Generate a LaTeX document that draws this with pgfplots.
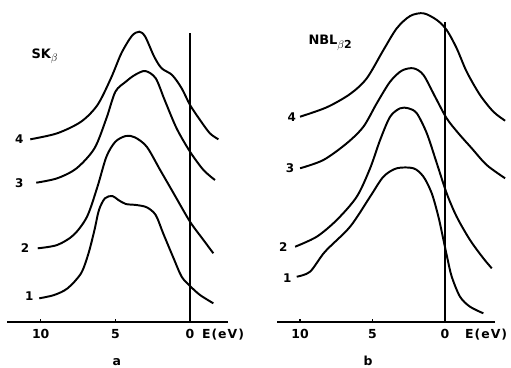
\documentclass[border=0pt]{standalone}
\usepackage{pgfplots}
\pgfplotsset{compat=1.18}
\usepackage{fontspec}
\setmainfont{DejaVu Sans}
\begin{document}
\begin{tikzpicture}[x=1bp,y=1bp]
\useasboundingbox (0,0) rectangle (511,367);
\pgfplotsset{
 panel/.style={
  scale only axis, height=320bp, ymin=0, ymax=320, x dir=reverse,
  axis x line*=bottom, axis y line=none, clip=false,
  x axis line style={line width=1.7bp,-},
  xtick={10,5,0}, xticklabels={10,5,0},
  tick align=inside, major tick length=3bp,
  xtick style={line width=1.3bp, black},
  xticklabel style={anchor=base, yshift=-16.3bp, font=\fontsize{12.5}{14}\selectfont\bfseries},
 },
 crv/.style={black, mark=none, line width=1.95bp, smooth},
}
\tikzset{lab/.style={font=\fontsize{12}{14}\selectfont\bfseries, anchor=center}}
\newcommand{\sub}[1]{\raisebox{-3.5bp}{\fontsize{11}{12}\selectfont #1}}
% ---------------- panel a ----------------
\begin{axis}[panel, at={(7bp,45bp)}, anchor=south west,
  xmin=-2.55, xmax=12.26, width=221.1bp]
\addplot[crv] coordinates {(10.1,23.7)(9.1,27)(8.2,33.7)(7.3,48.7)(6.8,68.7)(6.4,92)(6.1,112)(5.7,123.7)(5.2,126)(4.8,122)(4.3,118)(3.6,117)(2.9,114.7)(2.3,107)(1.8,88.7)(1.1,63.7)(0.56,45.3)(0,36)(-0.67,27)(-1.56,18.7)};
\addplot[crv] coordinates {(10.2,73.7)(8.9,77)(7.8,87)(6.9,105.3)(6.2,135.3)(5.6,165.3)(5.0,180.3)(4.3,186)(3.7,184.7)(2.9,175.3)(2.0,152)(1.1,128.7)(0,100.3)(-0.9,82)(-1.56,68.7)};
\addplot[crv] coordinates {(10.3,139.3)(8.9,143.7)(7.6,153.7)(6.4,173.7)(5.6,203.7)(5.0,230.3)(4.3,240.3)(3.7,247)(3.0,251)(2.3,243.7)(1.7,222)(0.9,193.7)(0,170.3)(-0.9,152)(-1.67,142)};
\addplot[crv] coordinates {(10.7,182.7)(8.9,188.7)(7.3,200.3)(6.2,217)(5.3,243.7)(4.6,268.7)(3.9,286)(3.4,290.3)(3.0,285.3)(2.4,265.3)(1.9,253.7)(1.2,247)(0.56,233.7)(0,217)(-0.67,202)(-1.33,188.7)(-1.9,182.7)};
\addplot[black, mark=none, line width=1.4bp, sharp plot] coordinates {(0,0)(0,289)};
\node[lab] at (axis cs:11.43,182.7) {4};
\node[lab] at (axis cs:11.43,139.3) {3};
\node[lab] at (axis cs:11.05,73.7) {2};
\node[lab] at (axis cs:10.76,26) {1};
\node[anchor=base west, font=\fontsize{13}{15}\selectfont\bfseries] at (axis cs:10.85,264) {SK\sub{$\beta$}};
\node[anchor=base, font=\fontsize{12.5}{14}\selectfont\bfseries\addfontfeatures{LetterSpace=8}] at (axis cs:-2.21,-16.3) {E(eV)};
\node[anchor=base, font=\fontsize{12.5}{14}\selectfont\bfseries] at (axis cs:4.91,-43) {a};
\end{axis}
% ---------------- panel b ----------------
\begin{axis}[panel, at={(276.7bp,45bp)}, anchor=south west,
  xmin=-3.45, xmax=11.61, width=218.4bp]
\addplot[crv] coordinates {(10.23,45.3)(9.31,50.3)(8.28,70.3)(6.55,95.3)(5.17,125.3)(4.25,145.3)(3.33,153.7)(2.18,153.7)(1.49,145.3)(0.92,128.7)(0.46,105.3)(0.11,82)(-0.16,63.7)(-0.46,45.3)(-1.03,25.3)(-1.72,15.3)(-2.64,8.7)};
\addplot[crv] coordinates {(10.34,75.3)(8.85,85.3)(7.47,102)(6.09,125.3)(5.17,153.7)(4.48,182)(3.79,205.3)(3.10,213.7)(2.53,213.7)(1.95,208.7)(1.26,188.7)(0.57,158.7)(-0.11,128.7)(-0.80,105.3)(-1.72,82)(-2.64,63.7)(-3.22,53.7)};
\addplot[crv] coordinates {(10.0,153.7)(8.39,162)(6.78,178.7)(5.63,195.3)(4.71,218.7)(3.79,240.3)(2.99,251.3)(2.18,253.7)(1.49,247)(0.69,225.3)(-0.11,203.7)(-0.92,188.7)(-1.84,173.7)(-2.87,157)(-4.14,143.7)};
\addplot[crv] coordinates {(10.0,205.3)(8.16,214.7)(6.55,228)(5.40,243.7)(4.25,272)(3.33,293.7)(2.41,306)(1.49,308.7)(0.57,302)(-0.11,292)(-0.80,273.7)(-1.49,250.3)(-2.41,227)(-3.33,210.3)(-4.14,201.3)};
\addplot[black, mark=none, line width=1.4bp, sharp plot] coordinates {(0,0)(0,300)};
\node[lab] at (axis cs:10.57,204.7) {4};
\node[lab] at (axis cs:10.69,153.7) {3};
\node[lab] at (axis cs:11.15,75.3) {2};
\node[lab] at (axis cs:10.88,43.7) {1};
\node[anchor=base west, font=\fontsize{13}{15}\selectfont\bfseries] at (axis cs:9.66,277) {NBL\sub{$\beta$2}};
\node[anchor=base, font=\fontsize{12.5}{14}\selectfont\bfseries\addfontfeatures{LetterSpace=8}] at (axis cs:-2.83,-16.3) {E(eV)};
\node[anchor=base, font=\fontsize{12.5}{14}\selectfont\bfseries] at (axis cs:5.31,-43) {b};
\end{axis}
\end{tikzpicture}
\end{document}
